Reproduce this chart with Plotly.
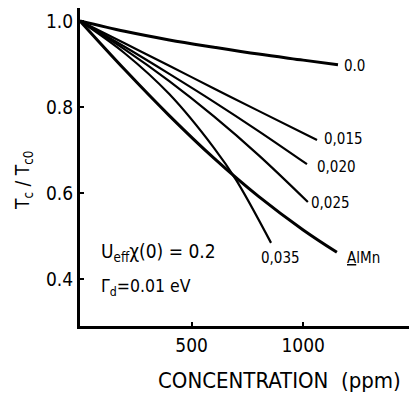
import plotly.graph_objects as go

# Data (x: concentration in ppm, y: Tc/Tc0)
x_00 = [0, 200, 400, 600, 800, 1000, 1156]
y_00 = [1.0, 0.976, 0.956, 0.939, 0.923, 0.909, 0.898]

x_015 = [0, 200, 400, 600, 800, 1062]
y_015 = [1.0, 0.948, 0.896, 0.843, 0.791, 0.723]

x_020 = [0, 200, 400, 600, 800, 1017]
y_020 = [1.0, 0.940, 0.877, 0.812, 0.744, 0.667]

x_025 = [0, 200, 400, 600, 800, 1021]
y_025 = [1.0, 0.934, 0.860, 0.778, 0.688, 0.579]

x_035 = [0, 200, 400, 600, 700, 856]
y_035 = [1.0, 0.925, 0.830, 0.705, 0.630, 0.484]

x_almn = [0, 200, 400, 600, 800, 1000, 1151]
y_almn = [1.0, 0.887, 0.780, 0.681, 0.592, 0.514, 0.462]

curve_labels = ["0.0", "0,015", "0,020", "0,025", "0,035", "<u>A</u>lMn"]
curve_x = [x_00, x_015, x_020, x_025, x_035, x_almn]
curve_y = [y_00, y_015, y_020, y_025, y_035, y_almn]
curve_widths = [3.0, 2.2, 2.2, 2.2, 2.2, 3.0]
# label offsets in pixels relative to curve end
label_shifts = [(4, -1), (5, 1), (8, -3), (1, -1), (-12, -15), (8, -6)]

x_tickvals = [500, 1000]
x_ticktext = ["500", "1000"]
y_tickvals = [1.0, 0.8, 0.6, 0.4]
y_ticktext = ["1.0", "0.8", "0.6", "0.4"]

FONT = "DejaVu Sans Condensed, DejaVu Sans, sans-serif"

fig = go.Figure()
annotations = []
for name, xs, ys, lw, (sx, sy) in zip(curve_labels, curve_x, curve_y, curve_widths, label_shifts):
    fig.add_trace(go.Scatter(
        x=xs, y=ys, mode="lines",
        line=dict(color="black", width=lw, shape="spline", smoothing=1.0),
        showlegend=False, hoverinfo="skip",
    ))
    annotations.append(dict(
        x=xs[-1], y=ys[-1], xref="x", yref="y",
        text=name, showarrow=False,
        xanchor="left", yanchor="middle",
        xshift=sx, yshift=sy,
        font=dict(family=FONT, size=15, color="black"),
    ))

annotations.append(dict(
    x=87, y=0.4605, xref="x", yref="y", xanchor="left", yanchor="middle",
    text="U<sub>eff</sub>χ(0) = 0.2", showarrow=False,
    font=dict(family=FONT, size=19, color="black"),
))
annotations.append(dict(
    x=87, y=0.381, xref="x", yref="y", xanchor="left", yanchor="middle",
    text="Γ<sub>d</sub>=0.01 eV", showarrow=False,
    font=dict(family=FONT, size=17.5, color="black"),
))
# y-axis title
annotations.append(dict(
    x=0, y=0.628, xref="paper", yref="y", xanchor="center", yanchor="middle",
    xshift=-56, textangle=-90,
    text="T<sub>c</sub> / T<sub>c0</sub>", showarrow=False,
    font=dict(family=FONT, size=19, color="black"),
))
# x-axis title
annotations.append(dict(
    x=0.5, y=0, xref="paper", yref="paper", xanchor="center", yanchor="middle",
    xshift=31, yshift=-54,
    text="CONCENTRATION&nbsp; (ppm)", showarrow=False,
    font=dict(family=FONT, size=22, color="black"),
))

fig.update_layout(
    width=417, height=394,
    margin=dict(l=72, r=8, t=0, b=76, autoexpand=False),
    paper_bgcolor="white", plot_bgcolor="white",
    font=dict(family=FONT, size=18, color="black"),
    annotations=annotations,
    xaxis=dict(
        range=[0, 1510], showgrid=False, zeroline=False, automargin=False,
        showline=True, linecolor="black", linewidth=3,
        ticks="inside", ticklen=4, tickwidth=2, tickcolor="black",
        tickvals=x_tickvals, ticktext=x_ticktext,
        tickfont=dict(family=FONT, size=19),
    ),
    yaxis=dict(
        range=[0.2907, 1.0302], showgrid=False, zeroline=False, automargin=False,
        showline=True, linecolor="black", linewidth=3,
        ticks="inside", ticklen=4, tickwidth=2, tickcolor="black",
        tickvals=y_tickvals, ticktext=y_ticktext,
        tickfont=dict(family=FONT, size=19),
    ),
)

fig.write_html("out.html")
